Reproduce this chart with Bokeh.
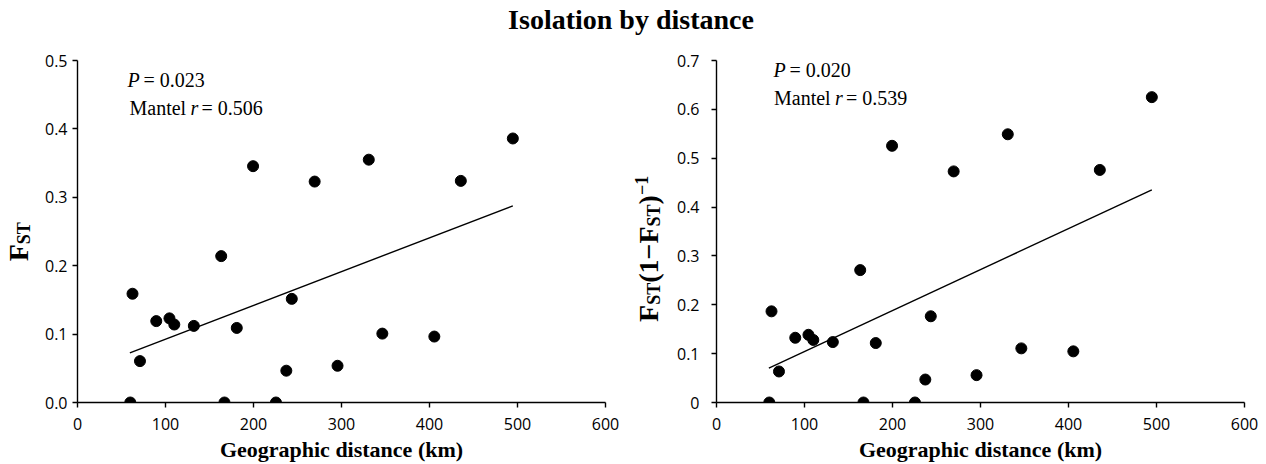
import math
from bokeh.plotting import figure
from bokeh.models import Range1d, FixedTicker, Label, ColumnDataSource
from bokeh.layouts import column, row
from bokeh.embed import file_html
from bokeh.resources import INLINE

# ---------------- data ----------------
title_text = "Isolation by distance"
x_label_text = "Geographic distance (km)"

distance = [60, 62.5, 71, 89.5, 104.5, 110, 132.2, 163.3, 167, 181, 225.5,
            237.3, 243.5, 199.5, 269.5, 331, 435.6, 494.7, 295.5, 346.4, 405.5]
fst = [0.0, 0.159, 0.0605, 0.119, 0.123, 0.114, 0.112, 0.214, 0.0, 0.109, 0.0,
       0.0465, 0.1515, 0.3455, 0.323, 0.355, 0.324, 0.386, 0.0537, 0.1007, 0.0964]
fst_lin = [0.0, 0.1866, 0.0635, 0.1325, 0.1386, 0.128, 0.1237, 0.271, 0.0, 0.1217, 0.0,
           0.047, 0.1765, 0.5254, 0.473, 0.549, 0.476, 0.625, 0.056, 0.1108, 0.1047]

fit_x = [59.5, 494.7]
fit_fst = [0.0726, 0.2875]
fit_lin = [0.0702, 0.4354]

x_ticks = [0, 100, 200, 300, 400, 500, 600]
x_tick_labels = ["0", "100", "200", "300", "400", "500", "600"]
left_y_ticks = [0.0, 0.1, 0.2, 0.3, 0.4, 0.5]
left_y_tick_labels = ["0.0", "0.1", "0.2", "0.3", "0.4", "0.5"]
right_y_ticks = [0.0, 0.1, 0.2, 0.3, 0.4, 0.5, 0.6, 0.7]
right_y_tick_labels = ["0", "0.1", "0.2", "0.3", "0.4", "0.5", "0.6", "0.7"]

left_p, left_r = "0.023", "0.506"
right_p, right_r = "0.020", "0.539"

SERIF = "Liberation Serif"
SANS = "Open Sans"
BASE_FIX = 0.35   # alphabetic-baseline correction (em) seen in the renderer

# Times-bold advance widths (em/1000) for laying out the composed y labels
TB = {"F": 611, "S": 556, "T": 667, "(": 333, ")": 333, "1": 500, "\u2212": 570}


def adv(text, size):
    return sum(TB.get(c, 500) for c in text) / 1000.0 * size


H = 424                 # panel row height (page y 40..464)
BT, BB = 20, 60         # common top / bottom borders -> frames at page y 60..404
FT, FB = 40 + BT, 464 - BB


def make_panel(width, bl, br, ymax, yticks, ylabels, ystandoff, ox):
    fw = width - bl - br
    fh = FB - FT
    p = figure(width=width, height=H, output_backend="svg", toolbar_location=None,
               title=None, x_range=Range1d(0, 600), y_range=Range1d(0, ymax),
               min_border_left=bl, min_border_right=br, min_border_top=BT,
               min_border_bottom=BB)
    p.grid.visible = False
    p.outline_line_color = None
    p.background_fill_color = "white"
    p.border_fill_color = "white"
    p.xaxis.ticker = FixedTicker(ticks=x_ticks)
    p.xaxis.major_label_overrides = {t: l for t, l in zip(x_ticks, x_tick_labels)}
    p.yaxis.ticker = FixedTicker(ticks=yticks)
    p.yaxis.major_label_overrides = {t: l for t, l in zip(yticks, ylabels)}
    for ax in (p.xaxis, p.yaxis):
        ax.axis_line_color = "black"
        ax.axis_line_width = 1.4
        ax.major_tick_line_color = "black"
        ax.major_tick_line_width = 1.4
        ax.major_tick_out = 5
        ax.major_tick_in = 0
        ax.minor_tick_line_color = None
        ax.major_label_text_font = SANS
        ax.major_label_text_font_size = "16px"
        ax.major_label_text_color = "black"
    p.xaxis.major_label_standoff = 10
    p.yaxis.major_label_standoff = ystandoff
    p.xaxis.axis_label = x_label_text
    p.xaxis.axis_label_text_font = SERIF
    p.xaxis.axis_label_text_font_style = "bold"
    p.xaxis.axis_label_text_font_size = "22px"
    p.xaxis.axis_label_text_color = "black"
    p.xaxis.axis_label_standoff = 4

    fl = ox + bl

    def to_data(px, py):
        return (px - fl) / fw * 600.0, (FB - py) / fh * ymax

    return p, to_data


# panel 1 : page x 40..630 ; frame 77..605
p1, d1 = make_panel(590, 37, 25, 0.5, left_y_ticks, left_y_tick_labels, 5, 40)
# panel 2 : page x 672..1266 ; frame 716..1244
p2, d2 = make_panel(594, 44, 22, 0.7, right_y_ticks, right_y_tick_labels, 12, 672)

src1 = ColumnDataSource(dict(x=distance, y=fst))
src2 = ColumnDataSource(dict(x=distance, y=fst_lin))
p1.scatter("x", "y", source=src1, size=11, color="black")
p2.scatter("x", "y", source=src2, size=11, color="black")
p1.line(fit_x, fit_fst, line_width=1.4, color="black")
p2.line(fit_x, fit_lin, line_width=1.4, color="black")

STAT_SIZE = 20


def stats(p, to_data, pxp, pxm, py1, py2, pval, rval):
    fix = BASE_FIX * STAT_SIZE
    x1, y1 = to_data(pxp, py1 - fix)
    x2, y2 = to_data(pxm, py2 - fix)
    common = dict(text_font=SERIF, text_font_size=f"{STAT_SIZE}px", text_color="black",
                  text_baseline="alphabetic", text_align="left")
    p.add_layout(Label(x=x1, y=y1, text="P", text_font_style="italic", **common))
    p.add_layout(Label(x=x1, y=y1, x_offset=16, text="= " + pval, **common))
    p.add_layout(Label(x=x2, y=y2, text="Mantel", **common))
    p.add_layout(Label(x=x2, y=y2, x_offset=61, text="r", text_font_style="italic", **common))
    p.add_layout(Label(x=x2, y=y2, x_offset=72, text="= " + rval, **common))


stats(p1, d1, 127, 129, 87, 115, left_p, left_r)
stats(p2, d2, 773, 773.5, 77, 104.5, right_p, right_r)


def label_strip(ox, width):
    # ranges given in page pixels: data coordinates == page coordinates
    f = figure(width=width, height=H, output_backend="svg", toolbar_location=None,
               title=None, x_range=Range1d(ox, ox + width), y_range=Range1d(FB, FT),
               x_axis_location=None, y_axis_location=None,
               min_border_left=0, min_border_right=0, min_border_top=BT, min_border_bottom=BB)
    f.grid.visible = False
    f.outline_line_color = None
    return f


def ylabel(f, px, py, pieces):
    along = 0.0
    for text, size, perp in pieces:
        f.add_layout(Label(x=px, y=py, x_offset=perp - BASE_FIX * size, y_offset=along,
                           text=text, angle=math.pi / 2, text_font=SERIF,
                           text_font_style="bold", text_font_size=f"{size}px",
                           text_color="black", text_baseline="alphabetic", text_align="left"))
        along += adv(text, size)


BIG, SMALL = 28, 18
lab1 = label_strip(0, 40)      # page x 0..40
lab2 = label_strip(630, 42)    # page x 630..672
ylabel(lab1, 28, 262, [("F", BIG, 0), ("ST", SMALL, 2)])
ylabel(lab2, 658, 323, [("F", BIG, 0), ("ST", SMALL, 2), ("(1\u2212F", BIG, 0),
                        ("ST", SMALL, 2), (")", BIG, 0), ("\u22121", SMALL, -11)])

# title strip : page (0, 0), 1266 x 40 ; data coordinates == page coordinates
pt = figure(width=1266, height=40, output_backend="svg", toolbar_location=None,
            title=None, x_range=Range1d(0, 1266), y_range=Range1d(40, 0),
            x_axis_location=None, y_axis_location=None,
            min_border_left=0, min_border_right=0, min_border_top=0, min_border_bottom=0)
pt.grid.visible = False
pt.outline_line_color = None
TITLE_SIZE = 28
pt.add_layout(Label(x=630.5, y=29 - BASE_FIX * TITLE_SIZE, text=title_text, text_font=SERIF,
                    text_font_style="bold", text_font_size=f"{TITLE_SIZE}px",
                    text_color="black", text_baseline="alphabetic", text_align="center"))

layout = column(pt, row(lab1, p1, lab2, p2))
open("out.html", "w").write(file_html(layout, INLINE))
